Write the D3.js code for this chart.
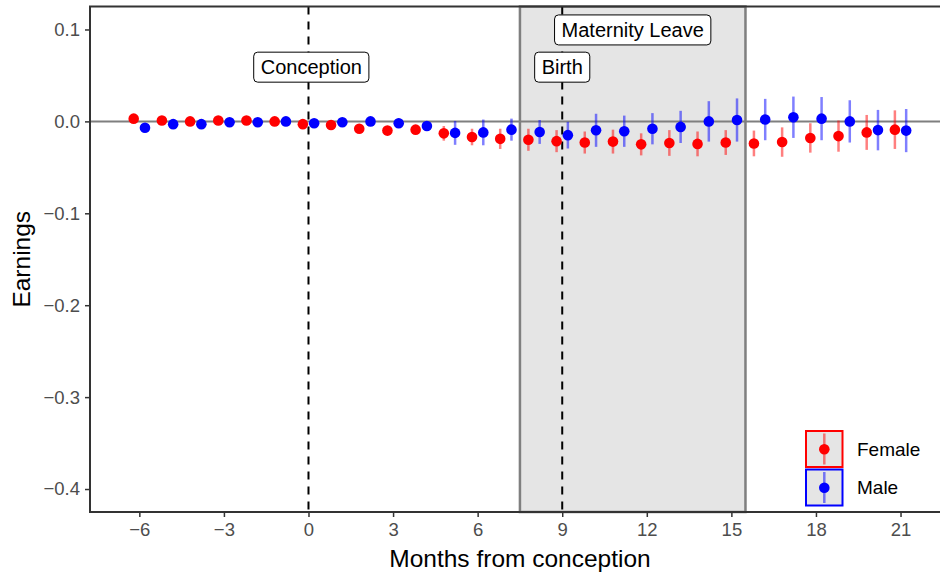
<!DOCTYPE html>
<html>
<head>
<meta charset="utf-8">
<script src="https://cdn.jsdelivr.net/npm/d3@7"></script>
<style>
  body { margin: 0; background: #ffffff; }
  text { font-family: "Liberation Sans", Arial, Helvetica, sans-serif; }
</style>
</head>
<body>
<script>
// months relative to conception
var months = [-6, -5, -4, -3, -2, -1, 0, 1, 2, 3, 4, 5, 6, 7, 8, 9, 10, 11, 12, 13, 14, 15, 16, 17, 18, 19, 20, 21];

// point estimates
var femaleEst = [0.003, 0.001, 0.000, 0.001, 0.001, 0.000, -0.003, -0.004, -0.008, -0.010, -0.009, -0.013, -0.017, -0.019,
                 -0.020, -0.0215, -0.023, -0.022, -0.025, -0.0235, -0.0245, -0.023, -0.024, -0.0225, -0.018, -0.016, -0.012, -0.009];
var maleEst   = [-0.007, -0.003, -0.003, -0.001, -0.001, 0.000, -0.002, -0.001, 0.000, -0.002, -0.005, -0.0125, -0.012, -0.009,
                 -0.0115, -0.015, -0.0097, -0.0107, -0.008, -0.006, 0.000, 0.0015, 0.002, 0.0045, 0.003, 0.000, -0.0095, -0.010];

// half widths of the confidence intervals
var femaleCI = [0.002, 0.002, 0.002, 0.002, 0.002, 0.002, 0.003, 0.003, 0.003, 0.004, 0.004, 0.008, 0.009, 0.011,
                0.012, 0.012, 0.012, 0.013, 0.012, 0.014, 0.0135, 0.0135, 0.014, 0.016, 0.016, 0.017, 0.019, 0.021];
var maleCI   = [0.003, 0.003, 0.003, 0.003, 0.003, 0.003, 0.004, 0.004, 0.004, 0.005, 0.005, 0.013, 0.014, 0.012,
                0.013, 0.0145, 0.018, 0.017, 0.017, 0.0175, 0.022, 0.0235, 0.0225, 0.0225, 0.0235, 0.023, 0.022, 0.0235];

var xTicks = [-6, -3, 0, 3, 6, 9, 12, 15, 18, 21];
var yTicks = [0.1, 0.0, -0.1, -0.2, -0.3, -0.4];

// reference events
var eventLines = [0, 9];
var leaveWindow = [7.5, 15.5];
var eventLabels = ["Conception", "Birth", "Maternity Leave"];
var labelX = [0.1, 9, 11.5];
var labelY = [0.059, 0.059, 0.0995];

var seriesNames = ["Female", "Male"];
var seriesColours = ["#ff0000", "#0000ff"];
var barColours = ["rgba(255,0,0,0.5)", "rgba(0,0,255,0.5)"];

var width = 940, height = 574;
var pLeft = 90, pRight = 940, pTop = 6.5, pBottom = 512;

var svg = d3.select("body")
    .append("svg")
    .attr("width", width)
    .attr("height", height);

var x = d3.scaleLinear().domain([-7.75, 22.4]).range([pLeft, pRight]);
var y = d3.scaleLinear().domain([-0.425, 0.125]).range([pBottom, pTop]);

// maternity leave shading
svg.append("rect")
    .attr("x", x(leaveWindow[0]))
    .attr("y", pTop)
    .attr("width", x(leaveWindow[1]) - x(leaveWindow[0]))
    .attr("height", pBottom - pTop)
    .style("fill", "#e5e5e5")
    .style("stroke", "#7f7f7f")
    .style("stroke-width", 2.5);

// zero line
svg.append("line")
    .attr("x1", pLeft).attr("x2", pRight)
    .attr("y1", y(0)).attr("y2", y(0))
    .style("stroke", "#7f7f7f")
    .style("stroke-width", 2);

// conception / birth lines
svg.selectAll(".event")
    .data(eventLines)
    .enter().append("line")
    .attr("class", "event")
    .attr("x1", function(d){ return x(d); })
    .attr("x2", function(d){ return x(d); })
    .attr("y1", pTop).attr("y2", pBottom)
    .style("stroke", "#000")
    .style("stroke-width", 2)
    .style("stroke-dasharray", "8,7");

// build rows for both series, dodged
var rows = [];
months.forEach(function(m, i){
    rows.push({m: m - 0.2, est: femaleEst[i], ci: femaleCI[i], s: 0});
    rows.push({m: m + 0.2, est: maleEst[i], ci: maleCI[i], s: 1});
});

svg.selectAll(".bar")
    .data(rows)
    .enter().append("line")
    .attr("class", "bar")
    .attr("x1", function(d){ return x(d.m); })
    .attr("x2", function(d){ return x(d.m); })
    .attr("y1", function(d){ return y(d.est + d.ci); })
    .attr("y2", function(d){ return y(d.est - d.ci); })
    .style("stroke", function(d){ return barColours[d.s]; })
    .style("stroke-width", 2.5);

svg.selectAll(".pt")
    .data(rows)
    .enter().append("circle")
    .attr("class", "pt")
    .attr("cx", function(d){ return x(d.m); })
    .attr("cy", function(d){ return y(d.est); })
    .attr("r", 5.3)
    .style("fill", function(d){ return seriesColours[d.s]; });

// event labels
eventLabels.forEach(function(t, i){
    var g = svg.append("g");
    var box = g.append("rect");
    var txt = g.append("text")
        .attr("x", x(labelX[i]))
        .attr("y", y(labelY[i]))
        .attr("dy", "0.35em")
        .attr("text-anchor", "middle")
        .style("font-size", "20px")
        .text(t);
    var bb = txt.node().getBBox();
    box.attr("x", bb.x - 7).attr("y", y(labelY[i]) - 15)
        .attr("width", bb.width + 14).attr("height", 30)
        .attr("rx", 4)
        .style("fill", "#fff")
        .style("stroke", "#000")
        .style("stroke-width", 1);
});

// axes
var xAxis = svg.append("g")
    .attr("transform", "translate(0," + pBottom + ")")
    .call(d3.axisBottom(x).tickValues(xTicks).tickSize(5).tickPadding(6)
        .tickFormat(function(d){ return d < 0 ? "\u2212" + Math.abs(d) : d; }));
var yAxis = svg.append("g")
    .attr("transform", "translate(" + pLeft + ",0)")
    .call(d3.axisLeft(y).tickValues(yTicks).tickSize(5).tickPadding(5)
        .tickFormat(function(d){ return d < 0 ? "\u2212" + Math.abs(d).toFixed(1) : d.toFixed(1); }));

[xAxis, yAxis].forEach(function(a){
    a.select(".domain").remove();
    a.selectAll(".tick line").style("stroke", "#333").style("stroke-width", 1.5);
    a.selectAll(".tick text").style("fill", "#4d4d4d").style("font-size", "18.5px")
        .style("font-family", "'Liberation Sans', Arial, sans-serif");
});

// panel border: left, bottom and top
svg.append("path")
    .attr("d", "M" + pRight + "," + pTop + "H" + pLeft + "V" + pBottom + "H" + pRight)
    .style("fill", "none")
    .style("stroke", "#333")
    .style("stroke-width", 2);

// axis titles
svg.append("text")
    .attr("x", 520)
    .attr("y", 567)
    .attr("text-anchor", "middle")
    .style("font-size", "24.5px")
    .text("Months from conception");

svg.append("text")
    .attr("transform", "translate(30," + ((pTop + pBottom) / 2) + ") rotate(-90)")
    .attr("text-anchor", "middle")
    .style("font-size", "24.5px")
    .text("Earnings");

// legend
var legend = svg.append("g").attr("transform", "translate(806,431)");
seriesNames.forEach(function(n, i){
    var k = legend.append("g").attr("transform", "translate(0," + (i * 38.5) + ")");
    k.append("rect")
        .attr("x", 0).attr("y", 0).attr("width", 36.5).attr("height", 36)
        .style("fill", "#e5e5e5")
        .style("stroke", seriesColours[i])
        .style("stroke-width", 2);
    k.append("line")
        .attr("x1", 18.3).attr("x2", 18.3).attr("y1", 2.5).attr("y2", 33.5)
        .style("stroke", barColours[i]).style("stroke-width", 2.5);
    k.append("circle")
        .attr("cx", 18.3).attr("cy", 18.3).attr("r", 5.3)
        .style("fill", seriesColours[i]);
    k.append("text")
        .attr("x", 51).attr("y", 18).attr("dy", "0.35em")
        .style("font-size", "19px")
        .text(n);
});
</script>
</body>
</html>
